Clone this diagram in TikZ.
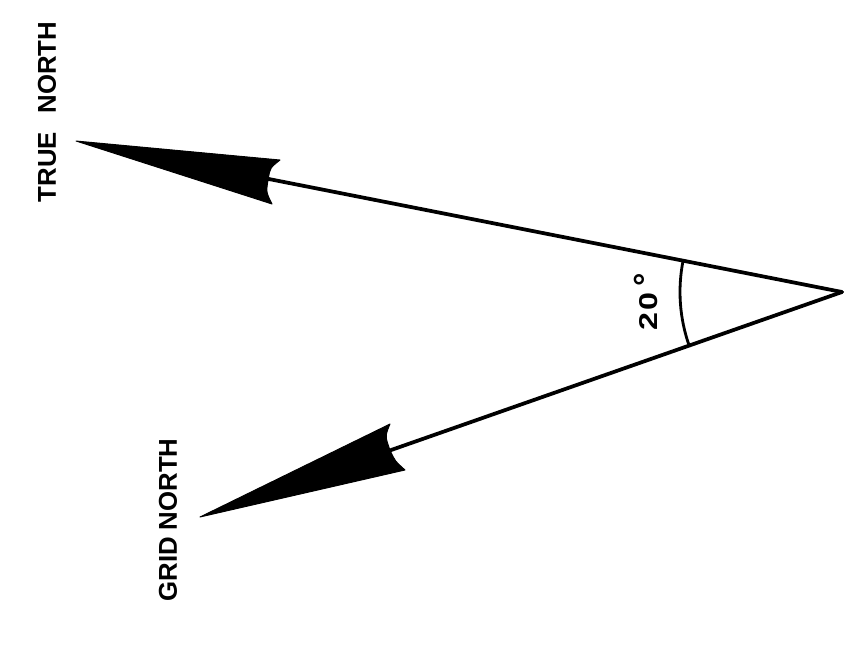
\documentclass[tikz,border=0pt]{standalone}
\usepackage{fontspec}
\setmainfont{Liberation Sans}
\usetikzlibrary{calc}

\begin{document}
\begin{tikzpicture}[
  x=0.03cm, y=-0.03cm,
  shaft/.style={line width=3.2pt, line cap=round},
  head/.style={fill=black, draw=black, line width=0.8pt, line join=round},
  anglearc/.style={line width=2.4pt},
  lbl/.style={rotate=90, inner sep=0pt, font=\bfseries\fontsize{22}{26}\selectfont}
]
\useasboundingbox (0,0) rectangle (851,648);
\coordinate (apex) at (842,292);
\coordinate (tn) at (76,141);
\coordinate (gn) at (200,517);
\coordinate (tnotch) at ($(apex)!0.749!(tn)$);
\coordinate (gnotch) at ($(apex)!0.704!(gn)$);
% shafts
\draw[shaft] (apex) -- (tnotch);
\draw[shaft] (apex) -- (gnotch);
% heads
\fill[head] (tn) -- (280,160) .. controls (270,168) .. (tnotch)
  .. controls (266,192) .. (272,204) -- cycle;
\fill[head] (gn) -- (390,424) .. controls (385,436) .. (gnotch)
  .. controls (395,461) .. (405,470) -- cycle;
% angle
\draw[anglearc] (apex) ++(191.15:162) arc[start angle=191.15, end angle=160.7, radius=162];
\node[lbl] (ang) at (646,302) {\scalebox{1.25}[1]{2}\hspace{2pt}\scalebox{1.25}[1]{0}\hspace{5pt}\scalebox{1.3}{°}};
% labels
\node[lbl] (tnlab) at (47,112) {TRUE\ \ \,NORTH};
\node[lbl] (gnlab) at (168,520) {GRID NORTH};
\end{tikzpicture}
\end{document}
